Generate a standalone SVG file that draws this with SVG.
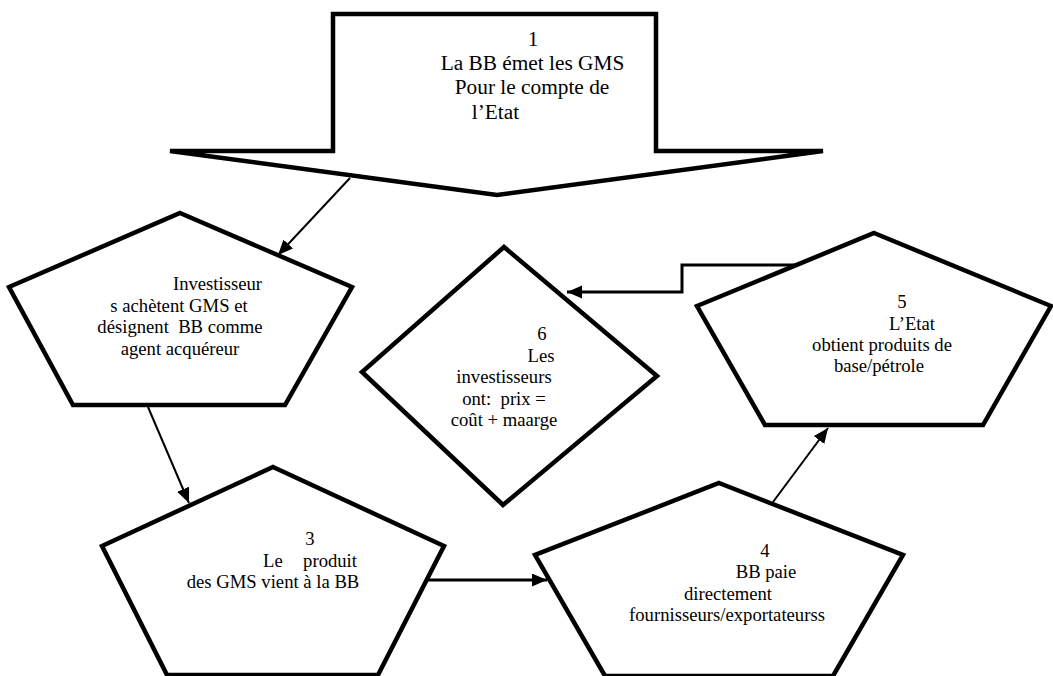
<svg xmlns="http://www.w3.org/2000/svg" width="1053" height="676" viewBox="0 0 1053 676">
<style>
.shape{fill:#fff;stroke:#000;stroke-width:4.5;stroke-linejoin:miter}
.t{font-family:"Liberation Serif","Times New Roman",serif;font-size:18.67px;fill:#000;text-anchor:middle;white-space:pre}
.big{font-size:21.33px}
.c{fill:none;stroke:#000;stroke-width:2}
.c3{fill:none;stroke:#000;stroke-width:3}
</style>
<defs>
<marker id="ah" markerUnits="userSpaceOnUse" markerWidth="16" markerHeight="14" refX="15" refY="6.5" orient="auto">
<path d="M0,0 L15,6.5 L0,13 z" fill="#000"/>
</marker>
</defs>
<rect width="1053" height="676" fill="#fff"/>
<g id="node1">
<polygon class="shape" points="333,14 656,14 656,151 823,151 497,195 170,151 333,151"/>
<text class="t big" x="533" y="46">1</text>
<text class="t big" x="532.5" y="70">La BB émet les GMS</text>
<text class="t big" x="532" y="94">Pour le compte de</text>
<text class="t big" x="495.5" y="119">l’Etat</text>
</g>
<g id="node2">
<polygon class="shape" points="180,213 352,287 285,405 73,405 9,287"/>
<text class="t" x="217.5" y="290">Investisseur</text>
<text class="t" x="179" y="311.5">s achètent GMS et</text>
<text class="t" x="180" y="333" xml:space="preserve">désignent  BB comme</text>
<text class="t" x="180" y="354.5">agent acquéreur</text>
</g>
<g id="node6">
<polygon class="shape" points="504,247 657,376 503,505 362,372"/>
<text class="t" x="542" y="340">6</text>
<text class="t" x="541" y="362">Les</text>
<text class="t" x="504" y="383">investisseurs</text>
<text class="t" x="504" y="405" xml:space="preserve">ont:  prix =</text>
<text class="t" x="504" y="426">coût + maarge</text>
</g>
<g id="node5">
<polygon class="shape" points="874,233 1051,306 983,425 765,425 697,306"/>
<text class="t" x="902" y="308">5</text>
<text class="t" x="912" y="330">L’Etat</text>
<text class="t" x="882" y="351">obtient produits de</text>
<text class="t" x="879" y="372">base/pétrole</text>
</g>
<g id="node3">
<polygon class="shape" points="273,467 444,546 378,675 167,675 102,546"/>
<text class="t" x="310" y="545">3</text>
<text class="t" x="263" y="567" style="text-anchor:start">Le</text>
<text class="t" x="357" y="567" style="text-anchor:end">produit</text>
<text class="t" x="273" y="588">des GMS vient à la BB</text>
</g>
<g id="node4">
<polygon class="shape" points="719,483 903,555 833,676 605,676 535,555"/>
<text class="t" x="765" y="557">4</text>
<text class="t" x="766" y="578">BB paie</text>
<text class="t" x="728" y="600">directement</text>
<text class="t" x="727" y="621">fournisseurs/exportateurss</text>
</g>
<g id="connectors">
<line class="c" x1="350" y1="178" x2="278" y2="255" marker-end="url(#ah)"/>
<line class="c" x1="148" y1="407" x2="189" y2="503" marker-end="url(#ah)"/>
<line class="c3" x1="428" y1="580" x2="547" y2="580" marker-end="url(#ah)"/>
<line class="c" x1="773" y1="502" x2="828" y2="428" marker-end="url(#ah)"/>
<polyline class="c3" points="797,265 682,265 682,292 567,292" marker-end="url(#ah)"/>
</g>
</svg>
